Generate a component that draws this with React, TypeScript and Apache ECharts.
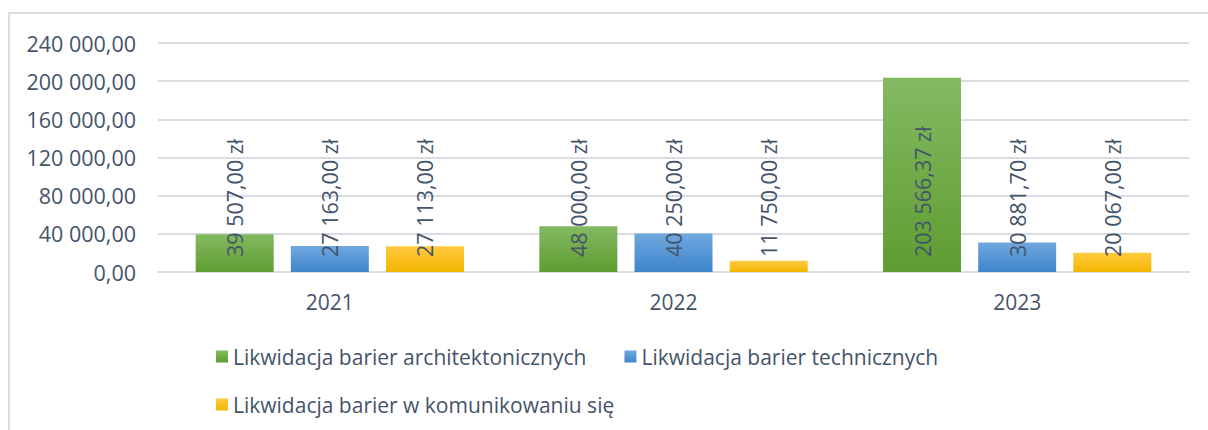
import React, { useEffect, useRef } from "react";
import * as echarts from "echarts";

const categories = ["2021", "2022", "2023"];
const seriesNames = [
  "Likwidacja barier architektonicznych",
  "Likwidacja barier technicznych",
  "Likwidacja barier w komunikowaniu się",
];
const architektoniczne = [39507.0, 48000.0, 203566.37];
const techniczne = [27163.0, 40250.0, 30881.7];
const komunikowanie = [27113.0, 11750.0, 20067.0];
const yTicks = { min: 0, max: 240000, interval: 40000 };

const TEXT = "#44546A";
const FONT = "'Open Sans', sans-serif";

function fmt(v: number): string {
  const fixed = v.toFixed(2);
  const [intPart, dec] = fixed.split(".");
  const withSpaces = intPart.replace(/\B(?=(\d{3})+(?!\d))/g, " ");
  return withSpaces + "," + dec;
}

function grad(top: string, bottom: string) {
  return new echarts.graphic.LinearGradient(0, 0, 0, 1, [
    { offset: 0, color: top },
    { offset: 1, color: bottom },
  ]);
}

export default function App() {
  const ref = useRef<HTMLDivElement>(null);
  useEffect(() => {
    document.body.style.margin = "0";
    if (!ref.current) return;
    const chart = echarts.init(ref.current, undefined, { renderer: "svg" });
    const label = {
      show: true,
      position: "insideBottom",
      rotate: 90,
      align: "left",
      verticalAlign: "middle",
      distance: 15,
      color: TEXT,
      fontFamily: FONT,
      fontSize: 21.5,
      formatter: (p: any) => fmt(p.value) + " zł",
    };
    const colors = [
      grad("#84B961", "#5E9D31"),
      grad("#70A8DE", "#3D85CB"),
      grad("#FFCA3F", "#F2B600"),
    ];
    const data = [architektoniczne, techniczne, komunikowanie];
    const legendText = { color: TEXT, fontFamily: FONT, fontSize: 21 };
    chart.setOption({
      animation: false,
      graphic: [
        {
          type: "polyline",
          shape: { points: [[9, 440], [9, 13], [1220, 13]] },
          style: { stroke: "#D9DDE3", lineWidth: 2, fill: "none" },
          silent: true,
        },
      ],
      grid: { left: 158, right: 19, top: 43, bottom: 158, containLabel: false },
      legend: [
        {
          data: [seriesNames[0], seriesNames[1]],
          left: 216,
          top: 346,
          padding: 0,
          icon: "rect",
          itemWidth: 12,
          itemHeight: 12,
          itemGap: 38,
          textStyle: legendText,
        },
        {
          data: [seriesNames[2]],
          left: 216,
          top: 394,
          padding: 0,
          icon: "rect",
          itemWidth: 12,
          itemHeight: 12,
          textStyle: legendText,
        },
      ],
      xAxis: {
        type: "category",
        data: categories,
        axisLine: { show: true, lineStyle: { color: "#D9DDE3", width: 2 } },
        axisTick: { show: false },
        axisLabel: { color: TEXT, fontFamily: FONT, fontSize: 21, margin: 19 },
      },
      yAxis: {
        type: "value",
        min: yTicks.min,
        max: yTicks.max,
        interval: yTicks.interval,
        axisLine: { show: false },
        axisTick: { show: false },
        splitLine: { lineStyle: { color: "#D9DDE3", width: 2 } },
        axisLabel: {
          color: TEXT,
          fontFamily: FONT,
          fontSize: 21.5,
          margin: 22,
          formatter: (v: number) => fmt(v),
        },
      },
      series: data.map((d, i) => ({
        name: seriesNames[i],
        type: "bar",
        data: d,
        barWidth: 78,
        barGap: "22%",
        itemStyle: { color: colors[i] },
        label,
      })),
    });
    return () => chart.dispose();
  }, []);
  return <div ref={ref} style={{ width: 1208, height: 430 }} />;
}
